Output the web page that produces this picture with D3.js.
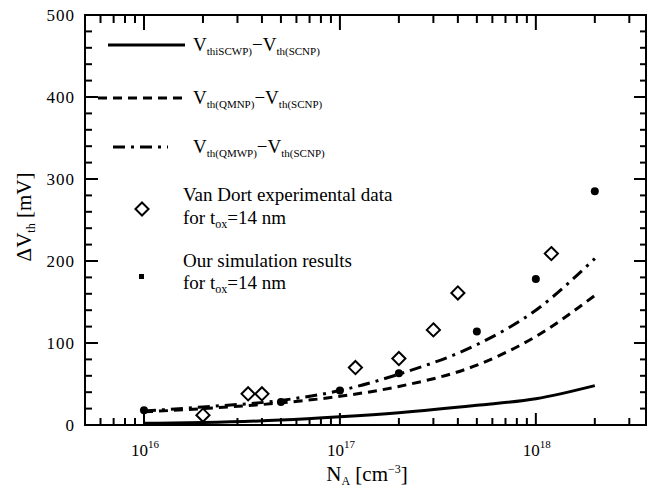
<!DOCTYPE html>
<html>
<head>
  <meta charset="utf-8">
  <title>Delta Vth vs NA</title>
  <script src="https://d3js.org/d3.v7.min.js"></script>
  <style>
    body { margin: 0; background: #fff; }
    text { font-family: "Liberation Serif", "DejaVu Serif", serif; fill: #000; }
  </style>
</head>
<body>
  <div id="chart"></div>

  <script>
    // doping points of the curves (cm^-3)
    var curveNA = [1e16, 2e16, 5e16, 1e17, 2e17, 5e17, 1e18, 2e18];
    // Vth(SCWP) - Vth(SCNP)
    var scwp = [2, 3, 6, 10, 15, 24, 32, 48];
    // Vth(QMNP) - Vth(SCNP)
    var qmnp = [16, 20, 27, 35, 47, 73, 108, 158];
    // Vth(QMWP) - Vth(SCNP)
    var qmwp = [17, 22, 30, 42, 62, 98, 140, 203];

    // Van Dort experimental data
    var vanDortNA = [2e16, 3.4e16, 4e16, 1.2e17, 2e17, 3e17, 4e17, 1.2e18];
    var vanDortV  = [12, 38, 38, 70, 81, 116, 161, 209];

    // simulation results
    var simNA = [1e16, 5e16, 1e17, 2e17, 5e17, 1e18, 2e18];
    var simV  = [18, 28, 42, 63, 114, 178, 285];

    var yTicks = [0, 100, 200, 300, 400, 500];
    var xMajor = [1e16, 1e17, 1e18];
    var xExp = ["16", "17", "18"];

    var W = 649, H = 488;
    var pLeft = 85, pRight = 646, pTop = 15, pBottom = 425;

    var svg = d3.select("#chart").append("svg")
      .attr("width", W).attr("height", H);

    var x = d3.scaleLog().domain([5e15, 3.65e18]).range([pLeft, pRight]);
    var y = d3.scaleLinear().domain([0, 500]).range([pBottom, pTop]);

    // minor x ticks: 2..9 of every decade inside the domain
    var xMinor = [];
    [1e15, 1e16, 1e17, 1e18].forEach(function(dec) {
      for (var k = 2; k <= 9; k++) {
        var v = k * dec;
        if (v > 5e15 && v < 3.65e18) xMinor.push(v);
      }
    });
    var yMinor = d3.range(0, 501, 20).filter(d => d % 100 !== 0);

    // frame
    svg.append("rect")
      .attr("x", pLeft).attr("y", pTop)
      .attr("width", pRight - pLeft).attr("height", pBottom - pTop)
      .attr("fill", "none").attr("stroke", "#000").attr("stroke-width", 2);

    // ticks pointing inwards on all four sides
    var tickG = svg.append("g");
    function tick(x1, y1, x2, y2) {
      tickG.append("line")
        .attr("x1", x1).attr("y1", y1).attr("x2", x2).attr("y2", y2)
        .style("stroke", "#000").style("stroke-width", "2px");
    }
    xMajor.concat(xMinor).forEach(function(v, i) {
      var major = i < xMajor.length;
      tick(x(v), pBottom, x(v), pBottom - (major ? 12 : 7));
      tick(x(v), pTop, x(v), pTop + (major ? 15 : 8));
    });
    yTicks.concat(yMinor).forEach(function(v, i) {
      var major = i < yTicks.length;
      tick(pLeft, y(v), pLeft + (major ? 13 : 7), y(v));
      tick(pRight, y(v), pRight - (major ? 12 : 6), y(v));
    });

    // y tick labels
    svg.selectAll(".ylab").data(yTicks).enter().append("text")
      .attr("x", pLeft - 10).attr("y", d => y(d) + 6)
      .attr("text-anchor", "end")
      .style("font-size", "17px").style("letter-spacing", "1px")
      .text(d => d);

    // x tick labels 10^n
    var xl = svg.selectAll(".xlab").data(xMajor).enter().append("text")
      .attr("x", d => x(d) + 1).attr("y", 456)
      .attr("text-anchor", "middle")
      .style("font-size", "17px");
    xl.append("tspan").text("10");
    xl.append("tspan").attr("dy", -8).style("font-size", "11px").text((d, i) => xExp[i]);

    // axis titles
    var xt = svg.append("text").attr("x", 367).attr("y", 481)
      .attr("text-anchor", "middle").style("font-size", "21px");
    xt.append("tspan").text("N");
    xt.append("tspan").attr("dy", 4).style("font-size", "12px").text("A");
    xt.append("tspan").attr("dy", -4).text(" [cm");
    xt.append("tspan").attr("dy", -8).style("font-size", "12px").text("\u22123");
    xt.append("tspan").attr("dy", 8).text("]");

    var yt = svg.append("text")
      .attr("transform", "translate(31,217) rotate(-90)")
      .attr("text-anchor", "middle").style("font-size", "21px");
    yt.append("tspan").text("\u0394V");
    yt.append("tspan").attr("dy", 4).style("font-size", "12px").text("th");
    yt.append("tspan").attr("dy", -4).text(" [mV]");

    // curves
    var series = [
      { v: scwp, dash: null },
      { v: qmnp, dash: "9,6" },
      { v: qmwp, dash: "12,6,3,6" }
    ];
    var line = d3.line()
      .x(d => x(d[0])).y(d => y(d[1]))
      .curve(d3.curveMonotoneX);
    series.forEach(function(s) {
      svg.append("path")
        .datum(curveNA.map((n, i) => [n, s.v[i]]))
        .attr("d", line)
        .attr("fill", "none")
        .attr("stroke", "#000")
        .attr("stroke-width", 3)
        .attr("stroke-dasharray", s.dash);
    });

    // Van Dort diamonds
    var sym = d3.symbol().type(d3.symbolDiamond2).size(110);
    svg.selectAll(".vd").data(vanDortNA).enter().append("path")
      .attr("d", sym)
      .attr("transform", (d, i) => "translate(" + x(d) + "," + y(vanDortV[i]) + ")")
      .attr("fill", "#fff").attr("stroke", "#000").attr("stroke-width", 2);

    // simulation dots
    svg.selectAll(".sim").data(simNA).enter().append("circle")
      .attr("cx", d => x(d)).attr("cy", (d, i) => y(simV[i]))
      .attr("r", 4).attr("fill", "#000");

    // legend
    var legend = [
      { y: 45, x1: 108, x2: 185, dash: null, a: "thiSCWP)", b: "th(SCNP)" },
      { y: 98, x1: 98, x2: 185, dash: "9,6", a: "th(QMNP)", b: "th(SCNP)" },
      { y: 147, x1: 113, x2: 168, dash: "12,6,3,6", a: "th(QMWP)", b: "th(SCNP)" }
    ];
    legend.forEach(function(l) {
      svg.append("line")
        .attr("x1", l.x1).attr("x2", l.x2).attr("y1", l.y).attr("y2", l.y)
        .attr("stroke", "#000").attr("stroke-width", 3)
        .attr("stroke-dasharray", l.dash);
      var t = svg.append("text").attr("x", 193).attr("y", l.y + 6)
        .style("font-size", "19px");
      t.append("tspan").text("V");
      t.append("tspan").attr("dy", 4).style("font-size", "11px").text(l.a);
      t.append("tspan").attr("dy", -4).text("\u2212V");
      t.append("tspan").attr("dy", 4).style("font-size", "11px").text(l.b);
    });

    svg.append("path").attr("d", sym)
      .attr("transform", "translate(142,209)")
      .attr("fill", "#fff").attr("stroke", "#000").attr("stroke-width", 2);
    svg.append("text").attr("x", 183).attr("y", 201)
      .style("font-size", "19px").text("Van Dort experimental data");
    var f1 = svg.append("text").attr("x", 183).attr("y", 224).style("font-size", "19px");
    f1.append("tspan").text("for  t");
    f1.append("tspan").attr("dy", 4).style("font-size", "12px").text("ox");
    f1.append("tspan").attr("dy", -4).text("=14 nm");

    svg.append("rect").attr("x", 139).attr("y", 274).attr("width", 5).attr("height", 5)
      .attr("fill", "#000");
    svg.append("text").attr("x", 183).attr("y", 267)
      .style("font-size", "19px").text("Our simulation results");
    var f2 = svg.append("text").attr("x", 183).attr("y", 289).style("font-size", "19px");
    f2.append("tspan").text("for  t");
    f2.append("tspan").attr("dy", 4).style("font-size", "12px").text("ox");
    f2.append("tspan").attr("dy", -4).text("=14 nm");
  </script>
</body>
</html>
